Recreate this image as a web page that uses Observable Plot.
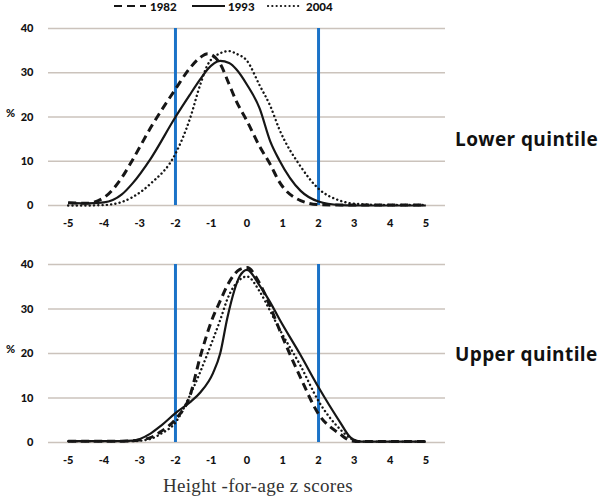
<!DOCTYPE html>
<html>
<head>
<meta charset="utf-8">
<script src="https://cdn.jsdelivr.net/npm/d3@7"></script>
<script src="https://cdn.jsdelivr.net/npm/@observablehq/plot@0.6"></script>
<style>
  html, body { margin: 0; padding: 0; background: #ffffff; }
  #root { position: relative; width: 600px; height: 500px; overflow: hidden; font-family: Lato, "Open Sans", sans-serif; }
  .abs { position: absolute; }
  .panel-label { font-family: "Open Sans", Lato, sans-serif; font-weight: 700; font-size: 19px; color: #111; white-space: nowrap; letter-spacing: 0.4px; }
  .pct { font-family: Lato, sans-serif; font-weight: 900; font-size: 11px; color: #111; }
  .xtitle { font-family: "Liberation Serif", "DejaVu Serif", serif; font-size: 19px; letter-spacing: 0.3px; color: #333; white-space: nowrap; }
</style>
</head>
<body>
<div id="root"></div>
<script>
// ---- data ----
const years = ["1982", "1993", "2004"];
const xTicks = [-5, -4, -3, -2, -1, 0, 1, 2, 3, 4, 5];
const yTicks = [0, 10, 20, 30, 40];
const cutoffs = [-2, 2];
const panelLabels = ["Lower quintile", "Upper quintile"];
const axisTitle = "Height -for-age z scores";

// Lower quintile
const zTop = [-5, -4.5, -4, -3.5, -3.2, -2.7, -2, -1.6, -1.3, -1.1, -0.75, -0.5, -0.3, 0, 0.35, 0.65, 0.9, 1.5, 2, 2.6, 3, 4, 5];
const lower1982 = [0.6, 0.5, 1.8, 6.3, 10.3, 17.5, 26.3, 31, 33.5, 34.3, 32, 27.4, 23.6, 19.1, 13.4, 9.3, 5.4, 1.1, 0.2, 0.1, 0.1, 0.1, 0.1];
const lower1993 = [0.6, 0.5, 0.7, 2.5, 5, 10.5, 20, 25, 28.6, 30.8, 32.7, 32.2, 30.8, 27.3, 22, 14.5, 10.3, 3.3, 0.9, 0.1, 0, 0, 0];
const lower2004 = [0, 0, 0.1, 0.8, 1.9, 4.9, 11.7, 19.5, 27.5, 31.8, 34.4, 34.9, 34.3, 32.7, 27.2, 22.5, 17.3, 8.8, 3.8, 1.1, 0.4, 0.1, 0.1];

// Upper quintile
const zBottom = [-5, -4, -3.5, -3.2, -2.7, -2.4, -2, -1.6, -1.3, -0.95, -0.75, -0.55, -0.2, 0, 0.35, 0.65, 0.9, 1.5, 2, 2.6, 2.9, 3.2, 4, 5];
const upper1982 = [0.3, 0.3, 0.3, 0.4, 1.1, 2.5, 5.2, 10.4, 19.5, 28.2, 31.8, 35.3, 38.9, 39.3, 35.8, 30.5, 25.5, 14.5, 6.4, 1.9, 0.4, 0.2, 0.2, 0.2];
const upper1993 = [0.3, 0.3, 0.3, 0.4, 2, 3.8, 6.6, 9, 11.3, 15.6, 20, 28, 37.4, 38.8, 35.3, 31.5, 27.8, 19.6, 12.4, 4.6, 1.1, 0.2, 0.2, 0.2];
const upper2004 = [0.3, 0.3, 0.3, 0.3, 0.8, 2, 4.5, 10.5, 16, 23.2, 27.5, 32.2, 36.6, 37.3, 34, 29.5, 25.6, 17.2, 9.3, 3, 0.9, 0.2, 0.2, 0.2];

// ---- styles ----
const lineStyle = {
  "1982": {strokeWidth: 3, strokeDasharray: "8,5", strokeLinecap: "butt"},
  "1993": {strokeWidth: 2.2, strokeDasharray: null, strokeLinecap: "butt"},
  "2004": {strokeWidth: 2.4, strokeDasharray: "0.1,4.2", strokeLinecap: "round"}
};
const gridColor = "#cbc3bc";
const blue = "#1b73c8";
const ink = "#161616";

function rows(z, vals, year) {
  return z.map((d, i) => ({z: d, pct: vals[i], year}));
}

function panel(series, z, opts) {
  const marks = [
    Plot.gridY(yTicks, {stroke: gridColor, strokeOpacity: 1, strokeWidth: 1.6}),
    Plot.ruleX(cutoffs, {y1: 0, y2: 40, stroke: blue, strokeWidth: 3}),
    Plot.axisY(yTicks, {tickSize: 0, tickPadding: 15, label: null, fontWeight: "900", fontSize: 11, fill: "#111"}),
    Plot.axisX(xTicks, {tickSize: 0, tickPadding: 14, label: null, fontWeight: "900", fontSize: 11, fill: "#111", tickFormat: d => String(d)})
  ];
  years.forEach((y, i) => {
    const s = lineStyle[y];
    marks.push(Plot.line(rows(z, series[i], y), {
      x: "z", y: "pct", stroke: ink, curve: "monotone-x",
      strokeWidth: s.strokeWidth, strokeDasharray: s.strokeDasharray, strokeLinecap: s.strokeLinecap
    }));
  });
  return Plot.plot({
    width: 600, height: opts.height,
    marginTop: opts.marginTop, marginBottom: opts.marginBottom,
    marginLeft: 48, marginRight: 155,
    x: {domain: [-5.55, 5.55]},
    y: {domain: [0, 40]},
    style: {fontFamily: "Lato, 'Open Sans', sans-serif", background: "transparent"},
    marks
  });
}

const root = document.getElementById("root");

const topChart = panel([lower1982, lower1993, lower2004], zTop, {height: 240, marginTop: 28, marginBottom: 35});
topChart.classList.add("abs"); topChart.style.left = "0px"; topChart.style.top = "0px";
root.appendChild(topChart);

const bottomChart = panel([upper1982, upper1993, upper2004], zBottom, {height: 230, marginTop: 24, marginBottom: 28});
bottomChart.classList.add("abs"); bottomChart.style.left = "0px"; bottomChart.style.top = "240px";
root.appendChild(bottomChart);

// legend
const leg = d3.create("svg").attr("width", 600).attr("height", 16)
  .style("position", "absolute").style("left", "0px").style("top", "0px");
const legItems = [
  {year: "1982", x1: 114, x2: 146, tx: 150},
  {year: "1993", x1: 192, x2: 225, tx: 228},
  {year: "2004", x1: 268, x2: 302, tx: 306}
];
legItems.forEach(it => {
  const s = lineStyle[it.year];
  leg.append("line").attr("x1", it.x1).attr("x2", it.x2).attr("y1", 6).attr("y2", 6)
    .attr("stroke", ink).attr("stroke-width", Math.min(s.strokeWidth, 2.2))
    .attr("stroke-dasharray", s.strokeDasharray).attr("stroke-linecap", s.strokeLinecap);
  leg.append("text").attr("x", it.tx).attr("y", 10.5).text(it.year)
    .attr("font-family", "Lato, sans-serif").attr("font-weight", "900").attr("font-size", 11.5).attr("fill", "#111");
});
root.appendChild(leg.node());

// labels
function addDiv(cls, text, left, topPx) {
  const d = document.createElement("div");
  d.className = "abs " + cls; d.textContent = text;
  d.style.left = left + "px"; d.style.top = topPx + "px";
  root.appendChild(d);
  return d;
}
addDiv("panel-label", panelLabels[0], 455, 126);
addDiv("panel-label", panelLabels[1], 455, 341);
addDiv("pct", "%", 6, 106);
addDiv("pct", "%", 6, 342);
addDiv("xtitle", axisTitle, 163, 475);
</script>
</body>
</html>
